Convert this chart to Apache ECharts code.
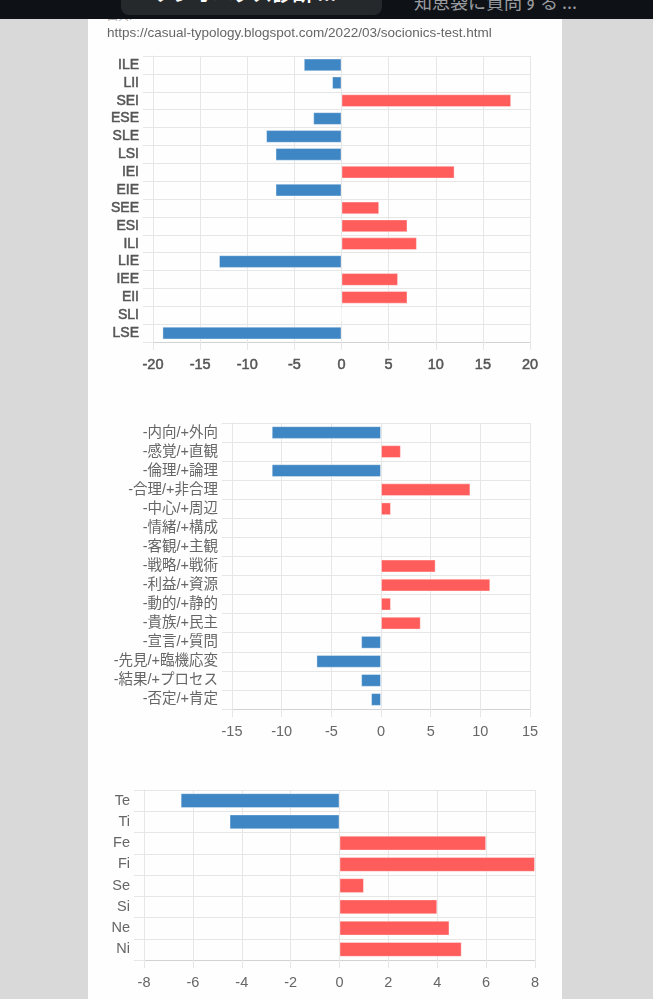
<!DOCTYPE html>
<html>
<head>
<meta charset="utf-8">
<script src="https://cdn.jsdelivr.net/npm/echarts@6/dist/echarts.min.js"></script>
<style>
  html, body { margin:0; padding:0; width:653px; height:999px; overflow:hidden; background:#d9d9d9; font-family:"Liberation Sans","Noto Sans CJK JP",sans-serif; }
  #panel { position:absolute; left:88px; top:0; width:474px; height:999px; background:#fefefe; }
  #topbar { position:absolute; left:0; top:0; width:653px; height:19px; background:#0e1216; overflow:hidden; z-index:5; }
  #tab { position:absolute; left:121px; top:-10px; width:261px; height:25px; background:#26292c; border-radius:8px; overflow:hidden; }
  #tabtext { position:absolute; left:32px; top:-12px; color:#fff; font-weight:bold; font-size:20px; white-space:nowrap; font-family:"Noto Sans CJK JP",sans-serif; }
  #tabx { position:absolute; left:228px; top:-12px; color:#ddd; font-size:20px; font-family:"Noto Sans CJK JP",sans-serif; }
  #righttext { position:absolute; left:414px; top:-12px; color:#9a9da0; font-size:18px; white-space:nowrap; font-family:"Noto Sans CJK JP",sans-serif; }
  #src { position:absolute; left:107px; top:7px; color:#aaa; font-size:11px; font-family:"Noto Sans CJK JP",sans-serif; }
  #chart { position:absolute; left:0; top:0; width:653px; height:999px; }
</style>
</head>
<body>
<div id="panel"></div>
<div id="src">出典:</div>
<div id="topbar">
  <div id="tab"><span id="tabtext">ソシオニクス診断 ...</span><span id="tabx">✕</span></div>
  <span id="righttext">知恵袋に質問する ...</span>
</div>
<div id="chart"></div>
<script>
const sourceUrl = "https://casual-typology.blogspot.com/2022/03/socionics-test.html";

const typeCategories = ["ILE","LII","SEI","ESE","SLE","LSI","IEI","EIE","SEE","ESI","ILI","LIE","IEE","EII","SLI","LSE"];
const typeValues = [-4,-1,18,-3,-8,-7,12,-7,4,7,8,-13,6,7,0,-19];

const dichotomyCategories = ["-内向/+外向","-感覚/+直観","-倫理/+論理","-合理/+非合理","-中心/+周辺","-情緒/+構成","-客観/+主観","-戦略/+戦術","-利益/+資源","-動的/+静的","-貴族/+民主","-宣言/+質問","-先見/+臨機応変","-結果/+プロセス","-否定/+肯定"];
const dichotomyValues = [-11,2,-11,9,1,0,0,5.5,11,1,4,-2,-6.5,-2,-1];

const functionCategories = ["Te","Ti","Fe","Fi","Se","Si","Ne","Ni"];
const functionValues = [-6.5,-4.5,6,8,1,4,4.5,5];

const axis1 = {min:-20, max:20, interval:5};
const axis2 = {min:-15, max:15, interval:5};
const axis3 = {min:-8, max:8, interval:2};

const BLUE = "#3f86c4", RED = "#ff5d5c";
const GRID = "#e6e6e6", AXIS = "#d2d2d2";
const FONT = "Liberation Sans, Noto Sans CJK JP, sans-serif";

function xAxisFor(idx, ax, fs, heavy){
  return {
    type:"value", gridIndex:idx, min:ax.min, max:ax.max, interval:ax.interval,
    axisLine:{show:true, lineStyle:{color:AXIS, width:1}},
    axisTick:{show:true, length:8, lineStyle:{color:GRID}},
    splitLine:{show:true, lineStyle:{color:GRID, width:1}},
    axisLabel:{color:heavy ? "#555" : "#666", fontSize:fs, fontFamily:FONT, margin:16,
      textBorderColor:heavy ? "#555" : "transparent", textBorderWidth:heavy ? 0.5 : 0}
  };
}
function yAxisFor(idx, cats, fs, heavy){
  return {
    type:"category", gridIndex:idx, data:cats, inverse:true,
    axisLine:{show:true, onZero:false, lineStyle:{color:GRID}},
    axisTick:{show:true, length:10, alignWithLabel:false, lineStyle:{color:GRID}},
    splitLine:{show:true, lineStyle:{color:GRID, width:1}},
    axisLabel:{color:heavy ? "#555" : "#666", fontSize:fs, fontFamily:FONT, margin:14, interval:0,
      textBorderColor:heavy ? "#555" : "transparent", textBorderWidth:heavy ? 0.5 : 0}
  };
}
function barSeries(idx, vals, w){
  return {
    type:"bar", xAxisIndex:idx, yAxisIndex:idx, data:vals, barWidth:w,
    itemStyle:{ color:(p)=> p.value < 0 ? BLUE : RED, borderColor:"rgba(255,255,255,0.35)", borderWidth:1 },
    silent:true, animation:false
  };
}

const chart = echarts.init(document.getElementById("chart"), null, {renderer:"canvas"});
chart.setOption({
  backgroundColor:"transparent",
  animation:false,
  title:{
    text:sourceUrl, left:107, top:27, padding:0,
    textStyle:{color:"#666", fontSize:13.5, fontWeight:"normal", fontFamily:FONT}
  },
  grid:[
    {left:153, width:377, top:56, height:286},
    {left:232, width:298, top:423, height:286},
    {left:144, width:391, top:790, height:170}
  ],
  xAxis:[ xAxisFor(0, axis1, 14.5, true), xAxisFor(1, axis2, 14.5, false), xAxisFor(2, axis3, 14.5, false) ],
  yAxis:[ yAxisFor(0, typeCategories, 14, true), yAxisFor(1, dichotomyCategories, 14.5, false), yAxisFor(2, functionCategories, 14.5, false) ],
  series:[ barSeries(0, typeValues, "71%"), barSeries(1, dichotomyValues, "67%"), barSeries(2, functionValues, "70%") ]
});
</script>
</body>
</html>
